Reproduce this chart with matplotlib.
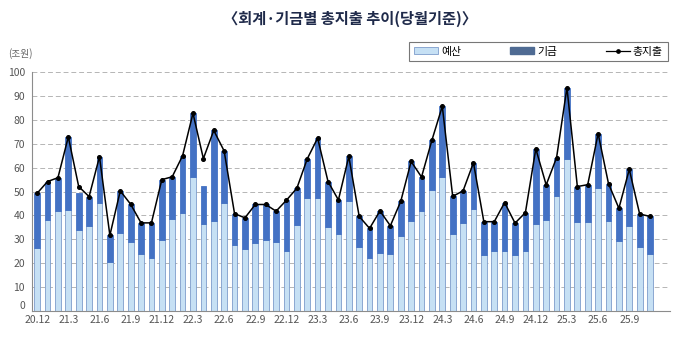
import matplotlib
matplotlib.use("Agg")
import matplotlib.pyplot as plt
from matplotlib.patches import Patch
from matplotlib.lines import Line2D
import numpy as np

plt.rcParams['font.family'] = ['Noto Sans CJK KR', 'DejaVu Sans']

# 월별 총지출 (조원), 2020.12 ~ 2025.11
months = [f"{y % 100}.{m}" for y, m in
          [(2020, 12)] + [(yy, mm) for yy in range(2021, 2026) for mm in range(1, 13)]][:60]

budget = [26.3, 38.3, 42.0, 42.4, 34.0, 35.4, 45.1, 20.7, 32.5, 28.8, 24.0, 22.4,
          29.7, 38.6, 41.1, 56.3, 36.5, 37.6, 45.3, 27.8, 26.0, 28.6, 29.6, 29.1,
          25.3, 36.1, 47.5, 47.4, 35.0, 32.4, 46.0, 26.7, 22.4, 24.2, 23.8, 31.3,
          37.5, 41.7, 50.6, 56.1, 32.4, 36.8, 42.9, 23.5, 25.0, 25.0, 23.5, 25.3,
          36.5, 37.9, 48.0, 63.5, 37.1, 37.4, 51.5, 37.6, 29.3, 35.7, 26.7, 23.8]

fund = [22.9, 15.9, 13.8, 30.5, 15.6, 12.5, 19.5, 11.0, 17.8, 15.9, 12.9, 14.5,
        25.3, 17.6, 23.9, 26.5, 15.9, 38.0, 21.7, 13.0, 13.0, 16.0, 15.0, 12.7,
        21.1, 15.3, 16.2, 25.0, 19.2, 14.1, 18.7, 12.9, 12.2, 17.7, 11.9, 14.6,
        25.1, 14.4, 20.9, 29.6, 15.6, 13.5, 19.2, 13.9, 12.4, 20.4, 13.3, 15.9,
        31.4, 14.9, 16.2, 30.0, 15.0, 15.5, 22.8, 15.7, 13.7, 23.6, 13.9, 15.8]

total = [49.3, 54.2, 55.8, 72.9, 52.1, 47.9, 64.6, 31.7, 50.3, 44.7, 36.9, 36.9,
         55.0, 56.2, 65.0, 82.8, 63.8, 75.6, 67.0, 40.8, 39.0, 44.6, 44.6, 41.8,
         46.4, 51.4, 63.7, 72.4, 54.2, 46.5, 64.7, 39.6, 34.6, 41.9, 35.7, 45.9,
         62.6, 56.1, 71.5, 85.7, 48.0, 50.3, 62.1, 37.4, 37.4, 45.4, 36.8, 41.2,
         67.9, 52.8, 64.2, 93.5, 52.1, 52.9, 74.3, 53.3, 43.0, 59.3, 40.6, 39.6]

tick_every = 3

light = "#c6e0f4"
light_edge = "#7d9ccb"
dark = "#4472c4"
legend_dark = "#4f6b93"

fig = plt.figure(figsize=(6.8, 3.37), dpi=100)
ax = fig.add_axes([0.047, 0.077, 0.938, 0.709])

x = np.arange(len(months))
w = 0.55
ax.bar(x, budget, width=w, color=light, edgecolor=light_edge, linewidth=0.6, zorder=2)
ax.bar(x, fund, width=w, bottom=budget, color=dark, edgecolor=dark, linewidth=0.6, zorder=2)
ax.plot(x, total, color="black", linewidth=1.1, marker="o", markersize=2.6, zorder=3)

ax.set_xlim(-0.5, 60.9)
ax.set_ylim(0, 100)
ax.set_yticks(np.arange(0, 101, 10))
ax.set_xticks(x[::tick_every])
ax.set_xticklabels(months[::tick_every])
ax.tick_params(axis="both", length=0, labelsize=7.5, colors="#555555")
ax.tick_params(axis="x", pad=3)
ax.tick_params(axis="y", pad=5)
# lift the zero label a little so it clears the first month label
ax.get_yticklabels()[0].set_verticalalignment("bottom")
ax.yaxis.grid(True, linestyle=(0, (5, 3)), color="#b5b5b5", linewidth=0.7, zorder=0)
ax.set_axisbelow(True)
for side in ("top", "right"):
    ax.spines[side].set_visible(False)
for side in ("left", "bottom"):
    ax.spines[side].set_color("#8c8c8c")
    ax.spines[side].set_linewidth(0.8)

fig.text(0.515, 0.945, "〈회계·기금별 총지출 추이(당월기준)〉", ha="center", va="center",
         fontsize=11, fontweight="bold", color="#1f2a4a")
fig.text(0.012, 0.842, "(조원)", ha="left", va="center", fontsize=7, color="#666666")

handles = [Patch(facecolor=light, edgecolor=light_edge, linewidth=0.6),
           Patch(facecolor=legend_dark, edgecolor=legend_dark),
           Line2D([0], [0], color="black", linewidth=0.9, marker="o", markersize=2.4)]
leg = fig.legend(handles, ["예산", "기금", "총지출"], loc="center",
                 bbox_to_anchor=(0.792, 0.847), ncol=3, frameon=True, fancybox=False,
                 fontsize=7.8, handlelength=2.2, handleheight=0.6, columnspacing=4.5,
                 handletextpad=0.3, borderpad=0.45)
leg.get_frame().set_edgecolor("#555555")
leg.get_frame().set_linewidth(0.8)

fig.savefig("out.png", dpi=100)
